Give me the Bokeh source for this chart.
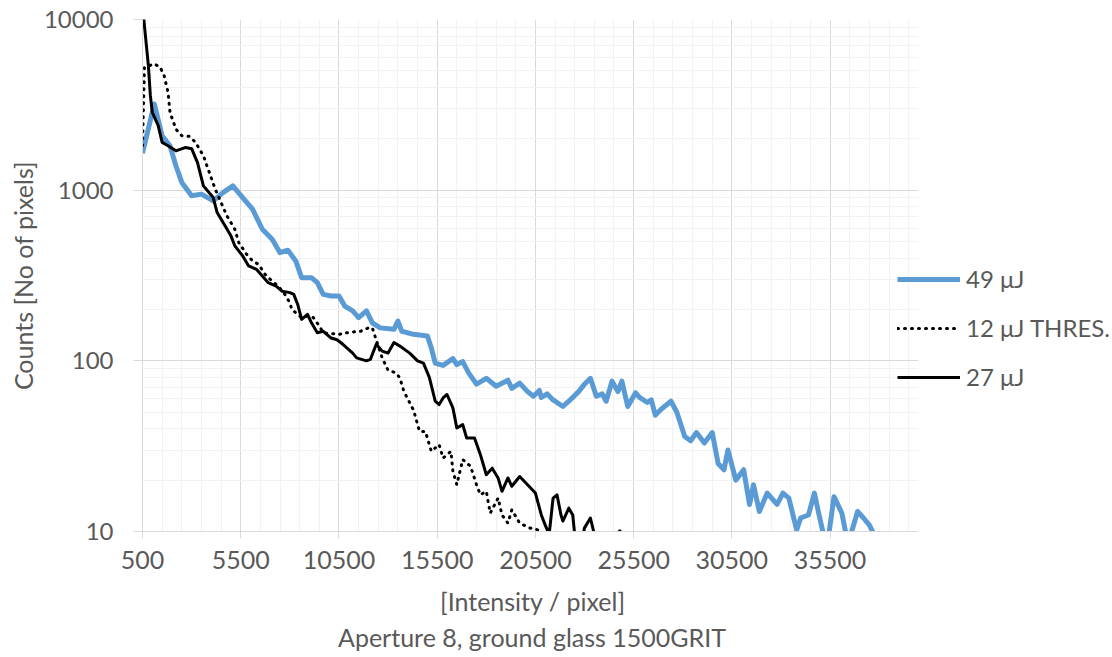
from bokeh.plotting import figure
from bokeh.models import Range1d, FixedTicker, PrintfTickFormatter, Legend, LegendItem, Title
from bokeh.embed import file_html
from bokeh.resources import INLINE

# ---- data ----
x_49 = [500, 1100, 1500, 1900, 2200, 2500, 3000, 3500, 4100, 4600,
        5100, 5600, 6100, 6600, 7100, 7500, 7900, 8300, 8600, 9100,
        9400, 9700, 10100, 10500, 10800, 11200, 11500, 11900, 12200, 12600,
        13300, 13500, 13700, 14300, 15000, 15200, 15400, 15800, 16300, 16500,
        16800, 17100, 17500, 18000, 18500, 19100, 19300, 19700, 20100, 20400,
        20700, 20800, 21100, 21400, 21900, 22200, 22700, 23000, 23300, 23600,
        23900, 24100, 24400, 24700, 24900, 25200, 25600, 25800, 26200, 26400,
        26600, 26900, 27400, 27700, 28100, 28400, 28700, 29100, 29500, 29800,
        30100, 30300, 30700, 31100, 31400, 31600, 31900, 32300, 32800, 33100,
        33400, 33800, 34000, 34400, 34700, 34900, 35200, 35400, 35700, 36100,
        36300, 36400, 36600, 36900, 37200, 37500, 37700]
y_49 = [1650, 3200, 2080, 1820, 1390, 1110, 927, 948, 865, 968,
        1060, 905, 774, 590, 516, 430, 445, 385, 307, 307,
        287, 245, 240, 240, 209, 196, 179, 196, 167, 156,
        153, 171, 149, 143, 140, 119, 97, 94, 103, 95,
        99, 85, 73, 79, 71, 77, 69, 74, 66, 62,
        67, 61, 64, 59, 54, 58, 66, 73, 79, 62,
        64, 58, 76, 66, 76, 54, 65, 61, 57, 59,
        48, 52, 58, 50, 36, 34, 38, 33, 38, 25,
        23, 30, 20, 23, 14.4, 18.8, 13.1, 16.8, 14.4, 16.8,
        15.7, 10.2, 12, 12.5, 16.8, 13.1, 9.2, 9, 16, 12.8,
        9.8, 8.8, 10, 13.1, 12, 10.9, 9.8]

x_12 = [500, 600, 1100, 1400, 1600, 1800, 1900, 2200, 2500, 2900,
        3200, 3600, 3900, 4200, 4500, 4800, 5200, 5400, 5800, 6100,
        6400, 6800, 7100, 7400, 7700, 8000, 8100, 8600, 8900, 9200,
        9500, 9700, 10500, 10900, 11300, 11600, 12000, 12200, 12400, 12700,
        13000, 13400, 13600, 13800, 14300, 14600, 14900, 15100, 15200, 15600,
        15800, 16200, 16300, 16500, 16800, 17200, 17500, 17700, 18000, 18200,
        18600, 18800, 19100, 19300, 19700, 20200, 20800, 21000]
y_12 = [1820, 5230, 5500, 5250, 4690, 3740, 2860, 2280, 2085, 2065,
        1905, 1590, 1270, 1015, 846, 706, 590, 493, 421, 385,
        368, 314, 294, 274, 250, 219, 200, 179, 183, 179,
        160, 146, 143, 146, 148, 149, 156, 156, 132, 104,
        88, 85, 79.4, 66.4, 51.3, 38.6, 38.6, 32.3, 29.5, 32.3,
        26.9, 29.5, 22.5, 18.8, 26.4, 24.1, 18.8, 16.4, 17.2, 12.8,
        15.7, 12.5, 11.2, 13.4, 11.2, 10.5, 10.1, 8.7]

x_27 = [500, 700, 800, 900, 1000, 1300, 1500, 1800, 2200, 2700,
        3000, 3300, 3600, 4100, 4300, 4700, 5000, 5200, 5600, 5900,
        6300, 6600, 6900, 7300, 7600, 8000, 8200, 8400, 8600, 8900,
        9100, 9400, 9700, 10100, 10400, 10700, 11200, 11400, 11900, 12100,
        12400, 12700, 13000, 13300, 13600, 14100, 14500, 14800, 15100, 15400,
        15600, 15800, 16000, 16300, 16500, 16800, 17000, 17400, 17700, 18000,
        18300, 18600, 18800, 19100, 19300, 19700, 20100, 20500, 20800, 21000,
        21200, 21400, 21600, 21800, 21900, 22200, 22400, 22500, 22800, 23000,
        23300, 23500, 23800, 24800, 25100]
y_27 = [12000, 7000, 5370, 3580, 2860, 2390, 1905, 1820, 1700, 1780,
        1750, 1450, 1060, 905, 739, 618, 540, 472, 412, 360,
        344, 314, 287, 274, 256, 251, 245, 214, 175, 187,
        167, 146, 149, 136, 133, 125, 111, 104, 100, 102,
        125, 114, 111, 128, 122, 111, 100, 97, 80, 58,
        55.4, 60.6, 63.5, 53, 40.4, 42.3, 35.3, 35.3, 28.2, 21.5,
        23.5, 20.6, 17.2, 20.6, 18.4, 21, 18.8, 16.8, 12.5, 10.9,
        9.6, 15.7, 16.4, 12.5, 11.5, 13.7, 12.5, 9.6, 8.2, 10.5,
        12, 9.6, 7.6, 10.1, 7.6]

series_labels = ["49 \u03bcJ", "12 \u03bcJ THRES.", "27 \u03bcJ"]
x_ticks = [500, 5500, 10500, 15500, 20500, 25500, 30500, 35500]
x_last = 40000
y_ticks = [10, 100, 1000, 10000]
x_title_lines = ["[Intensity / pixel]", "Aperture 8, ground glass 1500GRIT"]
y_title = "Counts [No of pixels]"

x_minor = [v for v in range(1500, x_last, 1000) if v not in x_ticks]
y_minor = [m * 10 ** k for k in range(1, 4) for m in range(2, 10)]

FONT = "Lato"
TXT = "#595959"
GRID = "#D9D9D9"
MINOR = "#F2F2F2"

# frame spans to the right edge of the page so that the legend is not clipped;
# the visible plot area (grid, axis) ends at x_last (pixel 918)
W, H = 1112, 657
LEFT, PLOT_RIGHT = 142, 918
x_end = 500 + (x_last - 500) * (W - LEFT) / (PLOT_RIGHT - LEFT)
centre_px = (LEFT + PLOT_RIGHT) / 2
# measured rendered widths of the two title lines (Lato 25px)
title_widths = [181, 385]

p = figure(width=W, height=H, x_range=Range1d(500, x_end),
           y_range=Range1d(10, 10000), y_axis_type="log",
           output_backend="svg", toolbar_location=None,
           min_border_left=LEFT, min_border_right=0,
           min_border_top=19, min_border_bottom=126)
p.outline_line_color = None
p.background_fill_color = "white"
p.border_fill_color = "white"

p.xaxis.ticker = FixedTicker(ticks=x_ticks, minor_ticks=x_minor)
p.yaxis.ticker = FixedTicker(ticks=y_ticks, minor_ticks=y_minor)
p.yaxis.formatter = PrintfTickFormatter(format="%d")
p.xaxis.bounds = (500, x_last)

for g in (p.xgrid, p.ygrid):
    g.grid_line_color = GRID
    g.grid_line_width = 1
    g.minor_grid_line_color = MINOR
    g.minor_grid_line_width = 1
p.ygrid.cross_bounds = (500, x_last)

for ax in (p.xaxis, p.yaxis):
    ax.axis_line_color = GRID
    ax.major_tick_line_color = GRID
    ax.major_tick_in = 0
    ax.minor_tick_in = 0
    ax.minor_tick_out = 0
    ax.major_label_text_font = FONT
    ax.major_label_text_color = TXT
    ax.axis_label_text_font = FONT
    ax.axis_label_text_color = TXT
    ax.axis_label_text_font_style = "normal"

p.xaxis.major_tick_out = 7
p.yaxis.major_tick_out = 9
p.xaxis.major_label_text_font_size = "25px"
p.yaxis.major_label_text_font_size = "24px"
p.xaxis.major_label_standoff = 12
p.yaxis.major_label_standoff = 20
p.yaxis.axis_label = y_title
p.yaxis.axis_label_text_font_size = "25px"
p.yaxis.axis_label_standoff = 3

for i, line in enumerate(x_title_lines):
    t = Title(text=line, align="left",
              offset=centre_px - LEFT - title_widths[i] / 2,
              text_font=FONT, text_font_size="25px", text_color=TXT,
              text_font_style="normal", standoff=(24 if i == 0 else -15))
    p.add_layout(t, "below")

r49 = p.line(x_49, y_49, line_color="#5B9BD5", line_width=5, line_join="round")
r12 = p.line(x_12, y_12, line_color="black", line_width=3, line_dash="1 6",
             line_cap="round")
r27 = p.line(x_27, y_27, line_color="black", line_width=3, line_join="round")

legend = Legend(items=[LegendItem(label=series_labels[0], renderers=[r49]),
                       LegendItem(label=series_labels[1], renderers=[r12]),
                       LegendItem(label=series_labels[2], renderers=[r27])],
                location=(755, 140), orientation="vertical",
                glyph_width=63, glyph_height=22, label_height=22,
                label_standoff=6, spacing=20, padding=0, margin=0,
                border_line_color=None, background_fill_alpha=0,
                label_text_font=FONT, label_text_font_size="24px",
                label_text_color=TXT)
p.add_layout(legend)

open("out.html", "w").write(file_html(p, INLINE))
